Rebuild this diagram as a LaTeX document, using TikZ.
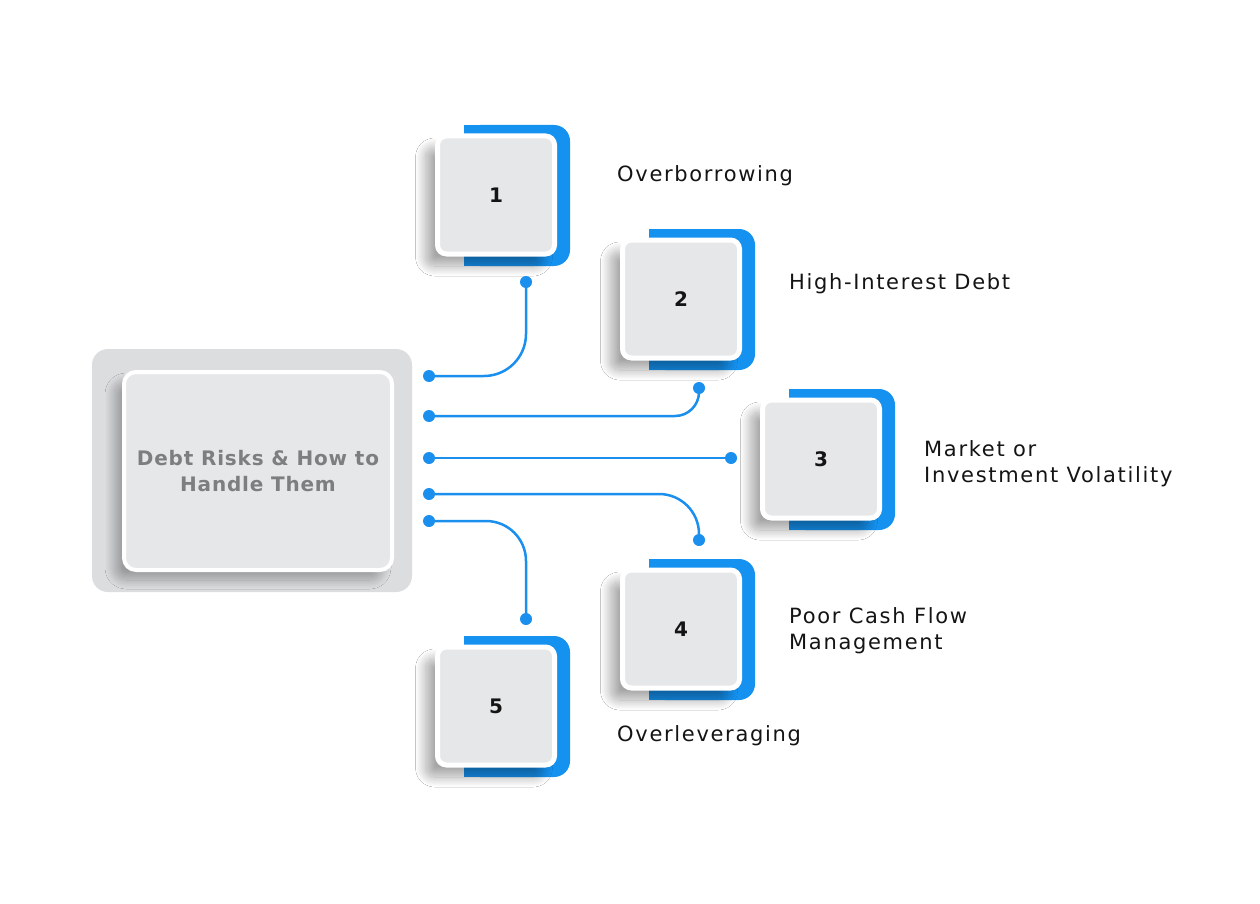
\documentclass[tikz,border=0pt]{standalone}
\usepackage{fontspec}
\setmainfont{DejaVu Sans}
\newfontfamily\labelfont[LetterSpace=8]{DejaVu Sans}
\newfontfamily\titlefont[LetterSpace=4]{DejaVu Sans}
\usetikzlibrary{shadows.blur}
\definecolor{bluec}{HTML}{1592F0}
\definecolor{linec}{HTML}{1A8FEE}
\definecolor{sqgray}{HTML}{E6E7E9}
\definecolor{plate}{HTML}{DCDDDF}
\definecolor{titlegray}{HTML}{7D7E80}
\definecolor{txt}{HTML}{141414}
\tikzset{
  sq/.style={draw=white, line width=5pt, fill=sqgray, rounded corners=9pt,
    minimum width=117pt, minimum height=118pt, inner sep=0pt,
    font=\fontsize{20}{26}\selectfont\bfseries, text=txt,
    blur shadow={shadow xshift=-12pt, shadow yshift=-12pt, shadow blur radius=10pt, shadow blur steps=20, shadow opacity=35}},
  mainbox/.style={draw=white, line width=4pt, fill=sqgray, rounded corners=12pt,
    minimum width=268pt, minimum height=198pt, inner sep=0pt, align=center,
    font=\titlefont\fontsize{20}{26}\selectfont\bfseries, text=titlegray,
    blur shadow={shadow xshift=-10pt, shadow yshift=-10pt, shadow blur radius=9pt, shadow blur steps=20, shadow opacity=30}},
  lab/.style={anchor=base west, inner sep=0pt, align=left,
    font=\labelfont\fontsize{21}{26}\selectfont, text=txt},
  dot/.style={circle, fill=linec, inner sep=0pt, minimum size=12pt},
  conn/.style={draw=linec, line width=2.5pt},
}
\newcommand\bluetab[2]{%
  \fill[bluec, rounded corners=16pt] (#1-32,#2-70) rectangle (#1+74,#2+71);
  \fill[bluec] (#1-32,#2-70) rectangle (#1+10,#2+71);}
\begin{document}
\begin{tikzpicture}[x=1pt,y=-1pt]
\useasboundingbox[fill=white] (0,0) rectangle (1260,904);
% main plate
\fill[plate, rounded corners=16pt] (92,349) rectangle (412,592);
\node[mainbox] (main) at (258,471) {Debt Risks \& How to\\Handle Them};
% boxes
\bluetab{496}{195}
\node[sq] (b1) at (496,195) {1};
\bluetab{681}{299}
\node[sq] (b2) at (681,299) {2};
\bluetab{821}{459}
\node[sq] (b3) at (821,459) {3};
\bluetab{681}{629}
\node[sq] (b4) at (681,629) {4};
\bluetab{496}{706}
\node[sq] (b5) at (496,706) {5};
% labels
\node[lab] (l1) at (617,182) {Overborrowing};
\node[lab] (l2) at (789,289.5) {High-Interest Debt};
\node[lab] (l3) at (924,482) {Market or\\Investment Volatility};
\node[lab] (l4) at (789,649.5) {Poor Cash Flow\\Management};
\node[lab] (l5) at (617,741.5) {Overleveraging};
% dots
\node[dot] (s1) at (429,376) {};
\node[dot] (s2) at (429,416) {};
\node[dot] (s3) at (429,458) {};
\node[dot] (s4) at (429,494) {};
\node[dot] (s5) at (429,521) {};
\node[dot] (e1) at (526,282) {};
\node[dot] (e2) at (699,388) {};
\node[dot] (e3) at (731,458) {};
\node[dot] (e4) at (699,540) {};
\node[dot] (e5) at (526,619) {};
% connectors
\draw[conn, rounded corners=42pt] (s1.center) -| (e1.center);
\draw[conn, rounded corners=24pt] (s2.center) -| (e2.center);
\draw[conn] (s3.center) -- (e3.center);
\draw[conn, rounded corners=40pt] (s4.center) -| (e4.center);
\draw[conn, rounded corners=40pt] (s5.center) -| (e5.center);
\end{tikzpicture}
\end{document}
